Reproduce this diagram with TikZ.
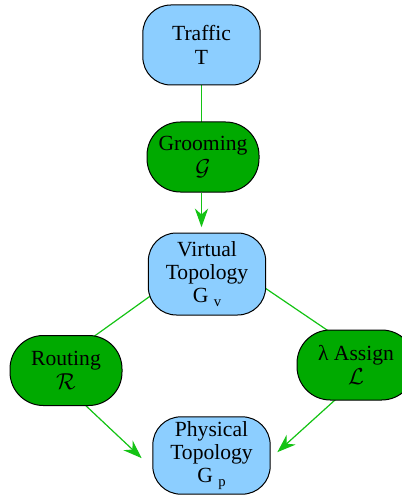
\documentclass[tikz,border=0pt]{standalone}
\usepackage{fontspec}
\setmainfont{Liberation Serif}
\usetikzlibrary{arrows.meta}
\pgfdeclarelayer{background}
\pgfsetlayers{background,main}

\definecolor{datablue}{RGB}{140,206,255}
\definecolor{procgreen}{RGB}{0,170,0}
\definecolor{linkgreen}{RGB}{20,195,20}

\tikzset{every picture/.style={line width=0.75pt}}

\begin{document}
\begin{tikzpicture}[x=0.75pt,y=0.75pt,yscale=-1,xscale=1,
  box/.style={draw, align=center, inner sep=0pt, font=\fontsize{16.2}{17.5}\selectfont},
  databox/.style={box, fill=datablue, rounded corners=21pt, minimum width=88pt},
  procbox/.style={box, fill=procgreen, rounded corners=25pt, minimum width=84pt, minimum height=52.5pt},
  link/.style={draw=linkgreen, line width=0.9pt},
  flow/.style={link, -{Stealth[length=14pt,width=10pt,inset=4.5pt]}, fill=linkgreen}]
\path[use as bounding box] (0,0) rectangle (402,495);

% data nodes
\node[databox, minimum height=60pt] (traffic) at (201.5,45) {Traffic\\T};
\node[databox, minimum height=61.5pt] (virt) at (207,274) {Virtual\\Topology\\G~\raisebox{-3pt}{\fontsize{11}{11}\selectfont v}};
\node[databox, minimum height=58pt] (phys) at (211.5,455.5) {Physical\\Topology\\G~\raisebox{-3pt}{\fontsize{11}{11}\selectfont p}};

% process nodes
\node[procbox] (groom) at (203,157) {Grooming\\[1pt]$\mathcal{G}$};
\node[procbox] (route) at (66,370.5) {Routing\\[1pt]$\mathcal{R}$};
\node[procbox, minimum width=88.5pt] (lambda) at (356,365) {λ Assign\\[1pt]$\mathcal{L}$};

% arrow ends (yscale=-1, so a negative yshift is upwards)
\coordinate (gtop) at (traffic.south |- virt.north);
\coordinate (gtip) at ([yshift=-4pt]gtop);
\coordinate (rtip) at ([xshift=-8pt,yshift=2pt]phys.west);
\coordinate (ltip) at ([xshift=5pt,yshift=-2.5pt]phys.east);

% connectors
\begin{pgfonlayer}{background}
\draw[link] (traffic.center) -- (groom.center -| traffic.center);
\draw[link] ([yshift=-14pt]virt.center) -- ([yshift=-10.5pt]route.center);
\draw[link] ([yshift=-19pt]virt.center) -- ([yshift=-11.5pt]lambda.center);
\draw[flow] ([yshift=12.4pt]route.center) -- (rtip);
\draw[flow] ([yshift=12pt]lambda.center) -- (ltip);
\end{pgfonlayer}
\draw[flow] (groom.south -| traffic.south) -- (gtip);
\end{tikzpicture}
\end{document}
